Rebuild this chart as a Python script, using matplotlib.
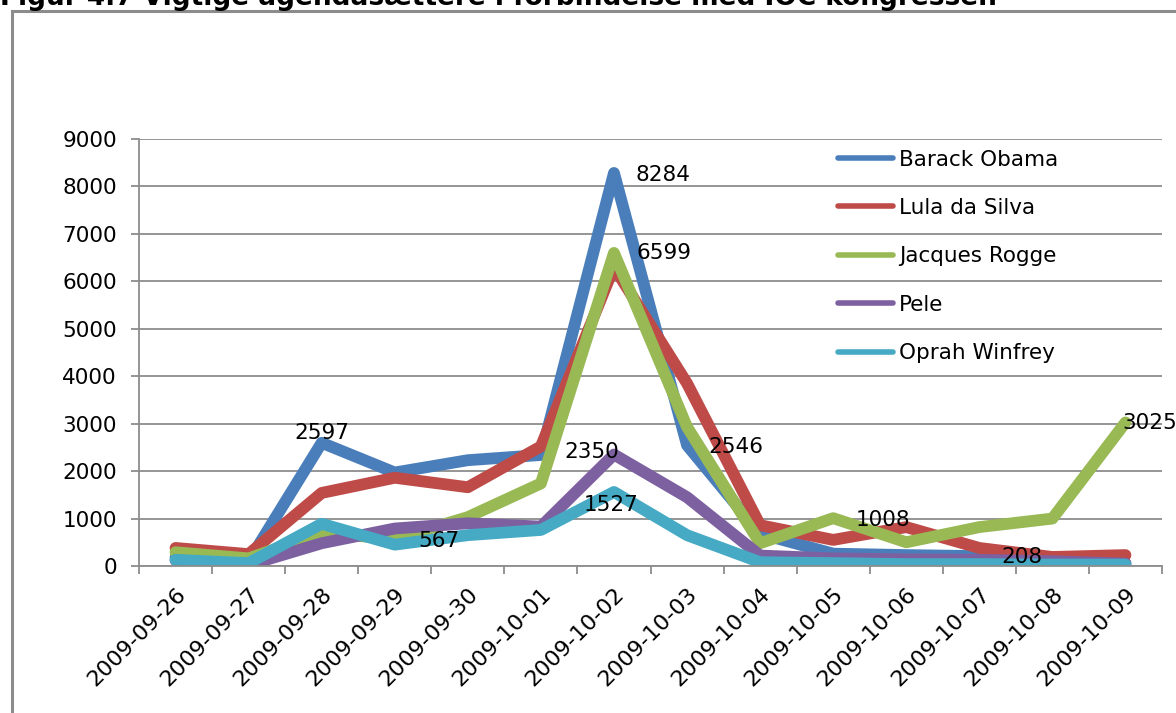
import numpy as np
import matplotlib
matplotlib.use("Agg")
import matplotlib.pyplot as plt
from matplotlib.patches import Rectangle

# ----------- DATA -----------------------------------------------------------
dates = ["2009-09-26", "2009-09-27", "2009-09-28", "2009-09-29", "2009-09-30",
         "2009-10-01", "2009-10-02", "2009-10-03", "2009-10-04", "2009-10-05",
         "2009-10-06", "2009-10-07", "2009-10-08", "2009-10-09"]

obama  = [180, 100, 2597, 1970, 2230, 2340, 8284, 2546, 680, 260, 230, 208, 130, 60]
lula   = [380, 250, 1540, 1860, 1660, 2520, 6300, 3850, 860, 550, 820, 380, 190, 230]
rogge  = [290, 160, 700, 567, 1030, 1740, 6599, 2930, 480, 1008, 500, 820, 1000, 3025]
pele   = [120, 20, 480, 790, 900, 830, 2350, 1450, 220, 160, 140, 130, 100, 50]
oprah  = [130, 60, 890, 450, 650, 760, 1560, 650, 80, 60, 40, 40, 30, 30]

names  = ["Barack Obama", "Lula da Silva", "Jacques Rogge", "Pele", "Oprah Winfrey"]
colors = ["#4A7EBB", "#BE4B48", "#98B954", "#7D60A0", "#46AAC5"]

# data labels: (series index, category index, text, x offset px, y offset px, ha)
labels = [(0, 2, "2597", 0, 10, "center"),
          (0, 6, "8284", 22, -2, "left"),
          (2, 6, "6599", 23, 0, "left"),
          (0, 7, "2546", 21, -2, "left"),
          (3, 6, "2350", 5, 3, "right"),
          (4, 6, "1527", -3, -13, "center"),
          (2, 3, "567", 24, -2, "left"),
          (2, 9, "1008", 23, -2, "left"),
          (0, 11, "208", 22, -1, "left"),
          (2, 13, "3025", -3, -1, "left")]
# ----------------------------------------------------------------------------

series = [obama, lula, rogge, pele, oprah]
x = np.arange(len(dates))
fs = 15.5

fig = plt.figure(figsize=(11.76, 7.13), dpi=100)
ax = fig.add_axes([139 / 1176, 1 - 566 / 713, (1162 - 139) / 1176, (566 - 139) / 713])

for vals, name, col in zip(series, names, colors):
    ax.plot(x, vals, color=col, lw=8.5, label=name, solid_capstyle="round",
            solid_joinstyle="round")

px = 0.72  # points per pixel at dpi 100
for si, ci, txt, dx, dy, ha in labels:
    ax.annotate(txt, (x[ci], series[si][ci]), xytext=(dx * px, dy * px),
                textcoords="offset points", ha=ha, va="center", fontsize=fs,
                color="black", annotation_clip=False, zorder=10)

ax.set_xlim(-0.5, 13.5)
ax.set_ylim(0, 9000)
ax.set_yticks(np.arange(0, 9001, 1000))
ax.yaxis.grid(True, color="#8C8C8C", lw=1.3)
ax.set_axisbelow(True)

ax.set_xticks(x)
ax.set_xticklabels(dates, rotation=45, ha="right", rotation_mode="anchor", fontsize=16)
ax.set_xticks(np.arange(-0.5, 13.6, 1), minor=True)
ax.tick_params(axis="x", which="major", length=0, pad=13)
ax.tick_params(axis="x", which="minor", length=6, width=1.3, color="#8C8C8C")
ax.tick_params(axis="y", length=6, width=1.3, color="#8C8C8C", labelsize=fs, pad=10)

for s in ["top", "right"]:
    ax.spines[s].set_visible(False)
for s in ["left", "bottom"]:
    ax.spines[s].set_color("#8C8C8C")
    ax.spines[s].set_linewidth(1.3)

leg = ax.legend(loc="upper left", bbox_to_anchor=((829 - 139) / 1023, 1 - (141 - 139) / 427),
                frameon=False, fontsize=fs, handlelength=2.55, handletextpad=0.3,
                labelspacing=1.32, borderaxespad=0)
for h in leg.get_lines():
    h.set_linewidth(4)

# chart frame and clipped title
fig.patches.append(Rectangle((12 / 1176, -0.1), 2, 1 - 11 / 713 + 0.1, transform=fig.transFigure,
                             fill=False, edgecolor="#8C8C8C", lw=2.2))
fig.text(0.0, 1 - 5 / 713, "Figur 4.7 Vigtige agendasættere i forbindelse med IOC kongressen",
         fontsize=19, fontweight="bold", va="baseline", ha="left")

fig.savefig("out.png", dpi=100)
